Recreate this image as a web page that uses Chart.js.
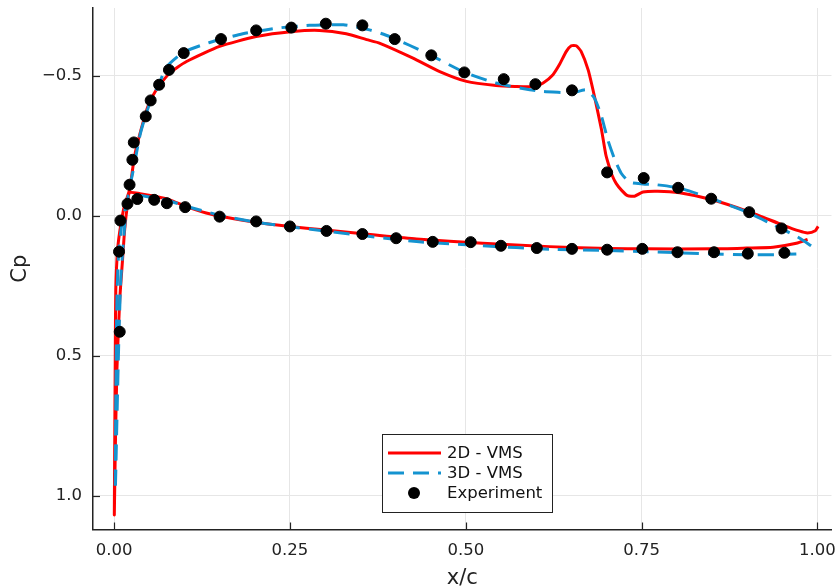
<!DOCTYPE html>
<html>
<head>
<meta charset="utf-8">
<script src="https://cdn.jsdelivr.net/npm/chart.js@4.4.1/dist/chart.umd.min.js"></script>
<style>
  html, body { margin: 0; padding: 0; background: #fff; }
</style>
</head>
<body>
<canvas id="cpChart" width="838" height="588"></canvas>
<script>
// tick values
var xTicks = [0, 0.25, 0.5, 0.75, 1.0];
var yTicks = [-0.5, 0, 0.5, 1.0];

// 2D - VMS : upper surface from trailing edge to leading edge, then lower surface back
var vms2dX = [1.001, 0.997, 0.986, 0.974, 0.950, 0.903, 0.849, 0.804, 0.773, 0.752, 0.740, 0.730, 0.722, 0.714,
  0.708, 0.704, 0.699, 0.693, 0.683, 0.674, 0.664, 0.657, 0.650, 0.643, 0.633, 0.624, 0.610, 0.598, 0.570,
  0.543, 0.501, 0.463, 0.425, 0.378, 0.359, 0.330, 0.292, 0.254, 0.202, 0.150, 0.103, 0.079, 0.060, 0.048,
  0.037, 0.029, 0.022, 0.015, 0.0095, 0.005, 0.0024, 0.0017, 0.001, 0.0003,
  0.0017, 0.004, 0.008, 0.012, 0.015, 0.019, 0.022, 0.037, 0.060, 0.079, 0.103, 0.131, 0.155, 0.202, 0.250,
  0.297, 0.368, 0.430, 0.524, 0.619, 0.704, 0.757, 0.851, 0.899, 0.937, 0.970, 0.986];
var vms2dCp = [0.038, 0.053, 0.061, 0.054, 0.032, -0.014, -0.058, -0.082, -0.088, -0.085, -0.070, -0.072, -0.090, -0.115,
  -0.145, -0.175, -0.220, -0.307, -0.426, -0.521, -0.587, -0.607, -0.607, -0.587, -0.539, -0.504, -0.474, -0.462, -0.462,
  -0.465, -0.480, -0.515, -0.563, -0.616, -0.629, -0.650, -0.662, -0.658, -0.640, -0.605, -0.551, -0.510, -0.450, -0.390,
  -0.295, -0.212, -0.093, -0.039, 0.032, 0.120, 0.264, 0.479, 0.764, 1.068,
  0.836, 0.550, 0.300, 0.157, 0.050, -0.040, -0.083, -0.079, -0.069, -0.057, -0.033, -0.010, 0.003, 0.023, 0.038,
  0.050, 0.068, 0.083, 0.098, 0.110, 0.117, 0.118, 0.118, 0.115, 0.112, 0.098, 0.084];

// 3D - VMS : same ordering
var vms3dX = [0.991, 0.975, 0.960, 0.937, 0.903, 0.851, 0.804, 0.771, 0.752, 0.733, 0.721, 0.712, 0.702, 0.693,
  0.683, 0.671, 0.652, 0.638, 0.610, 0.591, 0.543, 0.496, 0.449, 0.392, 0.363, 0.326, 0.278, 0.231, 0.183,
  0.136, 0.098, 0.074, 0.064, 0.052, 0.045, 0.037, 0.027, 0.022, 0.019, 0.012, 0.0067, 0.004, 0.0024, 0.0017,
  0.004, 0.0067, 0.0095, 0.014, 0.018, 0.021, 0.040, 0.060, 0.080, 0.100, 0.150, 0.200, 0.250, 0.300, 0.335,
  0.430, 0.524, 0.619, 0.704, 0.757, 0.851, 0.899, 0.940, 0.970];
var vms3dCp = [0.107, 0.080, 0.060, 0.032, -0.010, -0.060, -0.099, -0.111, -0.114, -0.120, -0.152, -0.200, -0.271, -0.355,
  -0.420, -0.450, -0.438, -0.440, -0.444, -0.450, -0.474, -0.515, -0.575, -0.640, -0.664, -0.682, -0.680, -0.670, -0.650,
  -0.619, -0.583, -0.530, -0.470, -0.410, -0.360, -0.290, -0.160, -0.100, -0.057, 0.014, 0.121, 0.300, 0.657, 0.979,
  0.730, 0.443, 0.229, 0.068, -0.039, -0.075, -0.072, -0.063, -0.052, -0.036, -0.002, 0.022, 0.039, 0.054, 0.065,
  0.092, 0.107, 0.119, 0.124, 0.128, 0.136, 0.139, 0.139, 0.136];

// Experiment
var expX = [0.007, 0.008, 0.009, 0.019, 0.022, 0.026, 0.028, 0.045, 0.052, 0.064, 0.078, 0.099, 0.152, 0.202,
  0.252, 0.301, 0.353, 0.399, 0.451, 0.498, 0.554, 0.599, 0.651, 0.701, 0.753, 0.802, 0.849, 0.903, 0.949,
  0.033, 0.057, 0.075, 0.101, 0.150, 0.202, 0.250, 0.302, 0.353, 0.401, 0.453, 0.507, 0.550, 0.601, 0.651,
  0.701, 0.751, 0.801, 0.853, 0.901, 0.953];
var expCp = [0.128, 0.414, 0.017, -0.043, -0.111, -0.200, -0.262, -0.355, -0.412, -0.468, -0.521, -0.581, -0.631, -0.662,
  -0.672, -0.686, -0.680, -0.631, -0.573, -0.512, -0.488, -0.470, -0.448, -0.155, -0.135, -0.100, -0.061, -0.013, 0.045,
  -0.060, -0.057, -0.045, -0.031, 0.003, 0.020, 0.038, 0.054, 0.065, 0.080, 0.093, 0.094, 0.107, 0.115, 0.118,
  0.121, 0.118, 0.130, 0.130, 0.135, 0.132];

function toPoints(xs, ys) {
  return xs.map(function (x, i) { return { x: x, y: ys[i] }; });
}

// drop the extra room Chart.js keeps for the end tick labels
function noEdgePadding(scale) {
  scale.paddingTop = 0;
  scale.paddingBottom = 0;
  scale.paddingLeft = 0;
  scale.paddingRight = 0;
}

Chart.defaults.font.family = 'DejaVu Sans';
Chart.defaults.color = '#222';

// inward tick marks like the original plot
var innerTicks = {
  id: 'innerTicks',
  afterDraw: function (chart) {
    var c = chart.ctx, a = chart.chartArea;
    var xs = chart.scales.x, ys = chart.scales.y;
    c.save();
    c.strokeStyle = '#222';
    c.lineWidth = 1.2;
    xTicks.forEach(function (v) {
      var px = Math.round(xs.getPixelForValue(v)) + 0.5;
      c.beginPath(); c.moveTo(px, a.bottom); c.lineTo(px, a.bottom - 7); c.stroke();
    });
    yTicks.forEach(function (v) {
      var py = Math.round(ys.getPixelForValue(v)) + 0.5;
      c.beginPath(); c.moveTo(a.left, py); c.lineTo(a.left + 7, py); c.stroke();
    });
    c.restore();
  }
};

// legend box inside the plot, lower middle
var boxLegend = {
  id: 'boxLegend',
  afterDraw: function (chart) {
    var c = chart.ctx;
    var left = 382, top = 434, w = 170, h = 78;
    c.save();
    c.fillStyle = '#fff';
    c.fillRect(left, top, w, h);
    c.strokeStyle = '#222';
    c.lineWidth = 1;
    c.strokeRect(left + 0.5, top + 0.5, w, h);
    c.font = '16.5px "DejaVu Sans"';
    c.textBaseline = 'middle';
    c.textAlign = 'left';
    chart.data.datasets.forEach(function (ds, i) {
      var y = top + 19 + i * 20;
      if (ds.showLine) {
        c.strokeStyle = ds.borderColor;
        c.lineWidth = ds.borderWidth;
        c.setLineDash(ds.borderDash || []);
        c.beginPath(); c.moveTo(388, y); c.lineTo(441, y); c.stroke();
        c.setLineDash([]);
      } else {
        c.fillStyle = ds.pointBackgroundColor;
        c.beginPath(); c.arc(414, y, 6, 0, Math.PI * 2); c.fill();
      }
      c.fillStyle = '#111';
      c.fillText(ds.label, 447, y + 1);
    });
    c.restore();
  }
};

var ctx = document.getElementById('cpChart').getContext('2d');
var cpChart = new Chart(ctx, {
  type: 'scatter',
  data: {
    datasets: [
      {
        label: '2D - VMS',
        data: toPoints(vms2dX, vms2dCp),
        showLine: true,
        borderColor: '#ff0000',
        borderWidth: 3,
        pointRadius: 0,
        tension: 0.2,
        order: 3
      },
      {
        label: '3D - VMS',
        data: toPoints(vms3dX, vms3dCp),
        showLine: true,
        borderColor: '#1493d0',
        borderWidth: 3,
        borderDash: [16, 9],
        pointRadius: 0,
        tension: 0.2,
        order: 2
      },
      {
        label: 'Experiment',
        data: toPoints(expX, expCp),
        showLine: false,
        pointRadius: 5.5,
        pointBackgroundColor: '#000',
        pointBorderColor: '#000',
        pointBorderWidth: 1,
        order: 1
      }
    ]
  },
  options: {
    responsive: false,
    animation: false,
    layout: { padding: { top: 8, right: 0, left: 0, bottom: 0 } },
    scales: {
      x: {
        type: 'linear',
        min: -0.03,
        max: 1.020,
        afterBuildTicks: function (scale) { scale.ticks = xTicks.map(function (v) { return { value: v }; }); },
        afterFit: function (scale) { scale.height = 58.5; noEdgePadding(scale); },
        ticks: {
          padding: 11,
          font: { size: 16.5 },
          color: '#222',
          maxRotation: 0,
          callback: function (v) { return Number(v).toFixed(2); }
        },
        grid: { color: '#e6e6e6', lineWidth: 1, drawTicks: false },
        border: { display: true, color: '#222', width: 1.5 },
        title: { display: true, text: 'x/c', font: { size: 21, lineHeight: 0.86 }, padding: 0, color: '#222' }
      },
      y: {
        type: 'linear',
        reverse: true,
        min: -0.742,
        max: 1.12,
        afterBuildTicks: function (scale) { scale.ticks = yTicks.map(function (v) { return { value: v }; }); },
        afterFit: function (scale) { scale.width = 93; noEdgePadding(scale); },
        ticks: {
          padding: 11,
          font: { size: 16.5 },
          color: '#222',
          callback: function (v) {
            var s = Math.abs(v).toFixed(1);
            return v < 0 ? '\u2212' + s : s;
          }
        },
        grid: { color: '#e6e6e6', lineWidth: 1, drawTicks: false },
        border: { display: true, color: '#222', width: 1.5 },
        title: { display: true, text: 'Cp', font: { size: 21, lineHeight: 1.2 }, padding: { top: 8, bottom: 0 }, color: '#222' }
      }
    },
    plugins: {
      legend: { display: false },
      tooltip: { enabled: false }
    }
  },
  plugins: [innerTicks, boxLegend]
});
</script>
</body>
</html>
